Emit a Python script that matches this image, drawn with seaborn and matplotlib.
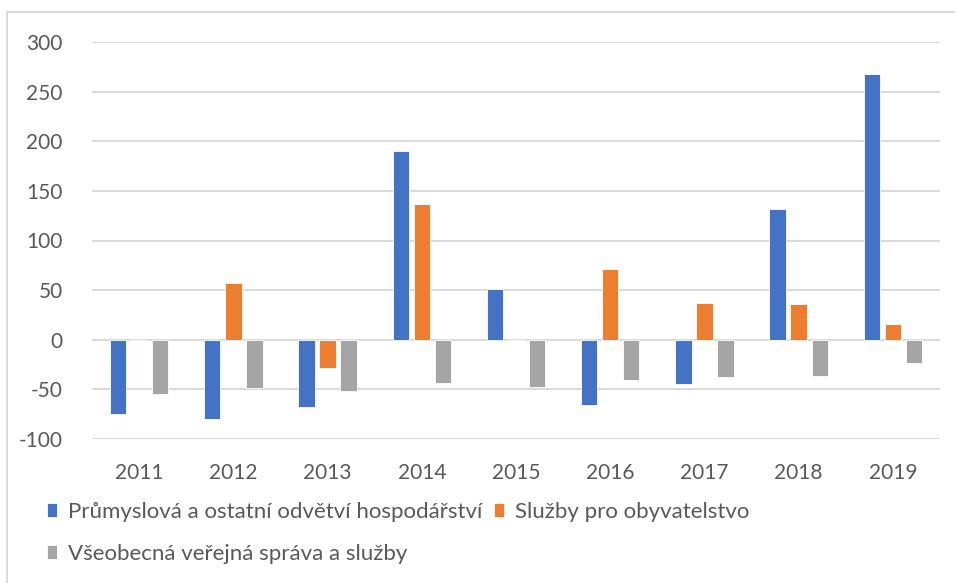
import matplotlib
matplotlib.use("Agg")
import matplotlib.pyplot as plt
import seaborn as sns
import pandas as pd

years = ["2011", "2012", "2013", "2014", "2015", "2016", "2017", "2018", "2019"]
series_names = [
    "Průmyslová a ostatní odvětví hospodářství",
    "Služby pro obyvatelstvo",
    "Všeobecná veřejná správa a služby",
]
prumysl = [-75, -80, -68, 190, 51, -66, -45, 132, 268]
sluzby = [0, 57, -28, 137, 0, 71, 37, 36, 16]
sprava = [-55, -49, -52, -44, -48, -41, -38, -37, -23]
colors = ["#4472C4", "#ED7D31", "#A5A5A5"]
yticks = [-100, -50, 0, 50, 100, 150, 200, 250, 300]

rows = []
for name, vals in zip(series_names, [prumysl, sluzby, sprava]):
    for y, v in zip(years, vals):
        rows.append({"rok": y, "serie": name, "hodnota": v})
df = pd.DataFrame(rows)

sns.set_theme(style="white")
plt.rcParams["font.family"] = ["Lato", "DejaVu Sans"]
txt = "#595959"

W, H = 955, 583
fig = plt.figure(figsize=(W / 100, H / 100), dpi=100)
ax = fig.add_axes([92 / W, 1 - 439 / H, (940 - 92) / W, (439 - 42) / H])

sns.barplot(data=df, x="rok", y="hodnota", hue="serie", order=years,
            hue_order=series_names, palette=colors, saturation=1,
            width=0.67, gap=0.22, ax=ax, edgecolor="white", linewidth=0.6,
            legend=True, zorder=3)

ax.set_ylim(-100, 300)
ax.set_xlim(-0.5, len(years) - 0.5)
ax.set_yticks(yticks)
ax.set_yticklabels([str(t) for t in yticks])
ax.yaxis.grid(True, color="#D9D9D9", linewidth=1.4, zorder=0)
ax.set_axisbelow(True)
for s in ax.spines.values():
    s.set_visible(False)
ax.tick_params(axis="y", length=0, pad=21, labelsize=15, labelcolor=txt)
ax.tick_params(axis="x", length=0, pad=17, labelsize=15, labelcolor=txt)
ax.set_xlabel("")
ax.set_ylabel("")

handles, labels = ax.get_legend_handles_labels()
ax.get_legend().remove()
order = [0, 2, 1]
fig.legend([handles[i] for i in order], [labels[i] for i in order],
           loc="upper left", bbox_to_anchor=(47 / W, 1 - 502 / H), ncol=2,
           frameon=False, fontsize=16, labelcolor=txt, handlelength=0.45,
           handleheight=0.6, handletextpad=0.5, columnspacing=0.5,
           labelspacing=1.0, borderaxespad=0, borderpad=0)

# outer chart frame (top and left edges visible)
fig.add_artist(plt.Line2D([7 / W, 1], [1 - 12 / H, 1 - 12 / H], color="#D9D9D9",
                          linewidth=1.5, transform=fig.transFigure))
fig.add_artist(plt.Line2D([7 / W, 7 / W], [0, 1 - 12 / H], color="#D9D9D9",
                          linewidth=1.5, transform=fig.transFigure))

fig.savefig("out.png", dpi=100, facecolor="white")
